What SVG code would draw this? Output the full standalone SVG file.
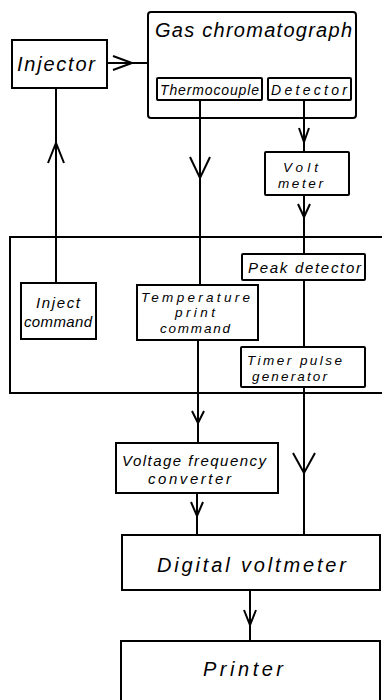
<svg xmlns="http://www.w3.org/2000/svg" width="382" height="700" viewBox="0 0 382 700">
<style>
.box, .frame { fill: none; stroke: #000; stroke-width: 2; }
.ln { fill: none; stroke: #000; stroke-width: 2; }
.ah { fill: none; stroke: #000; stroke-width: 2; stroke-linejoin: miter; }
text { font-family: "Liberation Sans", Arial, sans-serif; font-style: italic; fill: #000; }
.big { font-size: 20px; }
.mid { font-size: 15px; }
.sm { font-size: 14px; }
.tp { font-size: 13.5px; }
</style>
<rect x="0" y="0" width="382" height="700" fill="#fff"/>
<g id="connectors">
  <line class="ln" x1="107" y1="63" x2="148" y2="63"/>
  <polyline class="ah" points="113,56 132,63 113,70"/>
  <line class="ln" x1="56" y1="88" x2="56" y2="283"/>
  <polyline class="ah" points="48,163 56,143 64,163"/>
  <line class="ln" x1="200" y1="100" x2="200" y2="285"/>
  <polyline class="ah" points="190,157 200,178 210,157"/>
  <line class="ln" x1="304" y1="100" x2="304" y2="152"/>
  <polyline class="ah" points="299,128 304,142 309,128"/>
  <line class="ln" x1="304" y1="195" x2="304" y2="254"/>
  <polyline class="ah" points="298,204 304,217 310,204"/>
  <line class="ln" x1="304" y1="280" x2="304" y2="347"/>
  <line class="ln" x1="198" y1="340" x2="198" y2="443"/>
  <polyline class="ah" points="192,411 198,423 204,411"/>
  <line class="ln" x1="304" y1="387" x2="304" y2="535"/>
  <polyline class="ah" points="293,453 304,473 315,453"/>
  <line class="ln" x1="197" y1="493" x2="197" y2="535"/>
  <polyline class="ah" points="191,502 197,516 203,502"/>
  <line class="ln" x1="250" y1="590" x2="250" y2="641"/>
  <polyline class="ah" points="244,610 250,625 256,610"/>
</g>
<g id="controller">
  <path class="frame" d="M383,237 H10 V393 H383"/>
</g>
<g id="gas-chromatograph">
  <rect class="box" x="148" y="12" width="208" height="106" rx="3"/>
  <text class="big" x="155" y="37" textLength="197" lengthAdjust="spacing">Gas chromatograph</text>
</g>
<g id="thermocouple">
  <rect class="box" x="157" y="78" width="105" height="22" rx="1"/>
  <text class="sm" x="160" y="95" textLength="99" lengthAdjust="spacing">Thermocouple</text>
</g>
<g id="detector">
  <rect class="box" x="268" y="78" width="83" height="22" rx="1"/>
  <text class="sm" x="271" y="95" textLength="76" lengthAdjust="spacing">Detector</text>
</g>
<g id="injector">
  <rect class="box" x="12" y="40" width="95" height="48"/>
  <text class="big" x="17" y="71" textLength="78" lengthAdjust="spacing">Injector</text>
</g>
<g id="volt-meter">
  <rect class="box" x="265" y="152" width="84" height="43" rx="1"/>
  <text class="tp" x="283" y="172" textLength="35" lengthAdjust="spacing">Volt</text>
  <text class="tp" x="278" y="188" textLength="45" lengthAdjust="spacing">meter</text>
</g>
<g id="peak-detector">
  <rect class="box" x="242" y="254" width="123" height="26" rx="1"/>
  <text class="mid" x="248" y="273" textLength="113" lengthAdjust="spacing">Peak detector</text>
</g>
<g id="inject-command">
  <rect class="box" x="21" y="283" width="75" height="56"/>
  <text class="mid" x="36" y="308" textLength="44" lengthAdjust="spacing">Inject</text>
  <text class="mid" x="24" y="327" textLength="68" lengthAdjust="spacing">command</text>
</g>
<g id="temperature-print-command">
  <rect class="box" x="137" y="285" width="121" height="55"/>
  <text class="tp" x="141" y="302" textLength="109" lengthAdjust="spacing">Temperature</text>
  <text class="tp" x="175" y="317" textLength="40" lengthAdjust="spacing">print</text>
  <text class="tp" x="160" y="333" textLength="70" lengthAdjust="spacing">command</text>
</g>
<g id="timer-pulse-generator">
  <rect class="box" x="241" y="347" width="124" height="40" rx="1"/>
  <text class="tp" x="247" y="365" textLength="95" lengthAdjust="spacing">Timer pulse</text>
  <text class="tp" x="252" y="381" textLength="75" lengthAdjust="spacing">generator</text>
</g>
<g id="voltage-frequency-converter">
  <rect class="box" x="116" y="443" width="162" height="50"/>
  <text class="mid" x="122" y="466" textLength="144" lengthAdjust="spacing">Voltage frequency</text>
  <text class="mid" x="148" y="484" textLength="83" lengthAdjust="spacing">converter</text>
</g>
<g id="digital-voltmeter">
  <rect class="box" x="122" y="535" width="258" height="55"/>
  <text class="big" x="157" y="572" textLength="189" lengthAdjust="spacing">Digital voltmeter</text>
</g>
<g id="printer">
  <path class="frame" d="M121,702 V641 H380 V702"/>
  <text class="big" x="203" y="676" textLength="80" lengthAdjust="spacing">Printer</text>
</g>
</svg>
